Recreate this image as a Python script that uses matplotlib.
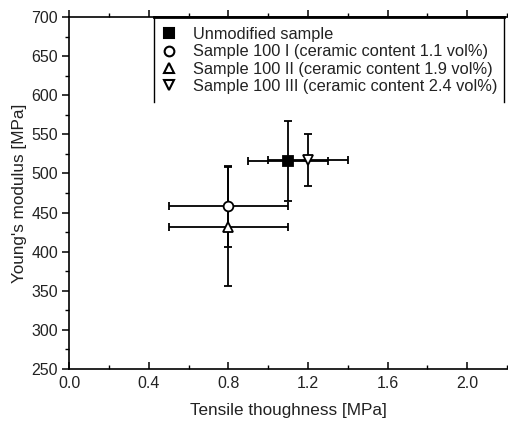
import matplotlib
matplotlib.use("Agg")
import matplotlib.pyplot as plt
from matplotlib.ticker import MultipleLocator
from matplotlib.lines import Line2D

plt.rcParams['font.family'] = ['Liberation Sans', 'DejaVu Sans']

# --- data ---
labels = ['Unmodified sample',
          'Sample 100 I (ceramic content 1.1 vol%)',
          'Sample 100 II (ceramic content 1.9 vol%)',
          'Sample 100 III (ceramic content 2.4 vol%)']
markers = ['s', 'o', '^', 'v']
fills = ['black', 'white', 'white', 'white']
toughness = [1.1, 0.8, 0.8, 1.2]
toughness_err = [0.2, 0.3, 0.3, 0.2]
modulus = [516, 458, 432, 517]
modulus_err = [51, 52, 76, 33]

fig = plt.figure(figsize=(5.08, 4.23), dpi=100)
ax = fig.add_axes([0.1364, 0.1277, 0.8616, 0.832])

for i in range(len(labels)):
    ax.errorbar(toughness[i], modulus[i], xerr=toughness_err[i], yerr=modulus_err[i],
                fmt=markers[i], color='black', mfc=fills[i], mec='black', ms=7, mew=1.3,
                ecolor='black', elinewidth=1.3, capsize=3, capthick=1.3)

ax.set_xlim(0, 2.2)
ax.set_ylim(250, 700)
ax.xaxis.set_major_locator(MultipleLocator(0.4))
ax.xaxis.set_minor_locator(MultipleLocator(0.2))
ax.yaxis.set_major_locator(MultipleLocator(50))
ax.yaxis.set_minor_locator(MultipleLocator(25))
ax.xaxis.set_major_formatter(plt.FormatStrFormatter('%.1f'))

ax.spines['right'].set_visible(False)
ax.spines['top'].set_visible(False)
for s in ['left', 'bottom']:
    ax.spines[s].set_linewidth(1.2)

ax.tick_params(axis='x', which='both', direction='in', labelsize=11.5, pad=5)
ax.tick_params(axis='x', which='major', length=5, width=1.1)
ax.tick_params(axis='x', which='minor', length=3, width=1.0)
ax.tick_params(axis='y', which='both', direction='out', labelsize=11.5, pad=3)
ax.tick_params(axis='y', which='major', length=5, width=1.1)
ax.tick_params(axis='y', which='minor', length=3, width=1.0)
for t in ax.get_xticklabels() + ax.get_yticklabels():
    t.set_color('#222222')

# top axis with outward ticks, no labels
top = ax.secondary_xaxis('top')
top.xaxis.set_major_locator(MultipleLocator(0.4))
top.xaxis.set_minor_locator(MultipleLocator(0.2))
top.tick_params(which='both', direction='out', labeltop=False)
top.tick_params(which='major', length=5, width=1.1)
top.tick_params(which='minor', length=3, width=1.0)
top.spines['top'].set_linewidth(1.2)

ax.set_xlabel('Tensile thoughness [MPa]', fontsize=12.3, labelpad=9, color='#222222')
ax.set_ylabel("Young's modulus [MPa]", fontsize=12.3, labelpad=3, color='#222222')

handles = [Line2D([], [], ls='none', marker=markers[i], mfc=fills[i], mec='black',
                  ms=7, mew=1.5) for i in range(len(labels))]
leg = ax.legend(handles, labels, loc='upper right', frameon=False, fontsize=11.8,
                handletextpad=0.9, labelspacing=0.14, borderaxespad=0.1,
                handlelength=1.2, bbox_to_anchor=(0.997, 0.995))
for t in leg.get_texts():
    t.set_color('#222222')

# legend frame: left, right and top edges only
fig.canvas.draw()
bb = leg.get_window_extent().transformed(ax.transAxes.inverted())
x0, x1, y0 = bb.x0 + 0.005, 0.993, bb.y0 - 0.005
ax.plot([x0, x0], [y0, 1], color='black', lw=1.0, transform=ax.transAxes, clip_on=False)
ax.plot([x1, x1], [y0, 1], color='black', lw=1.0, transform=ax.transAxes, clip_on=False)
ax.plot([x0, x1], [1, 1], color='black', lw=2.0, transform=ax.transAxes, clip_on=False)

fig.savefig('out.png', dpi=100)
